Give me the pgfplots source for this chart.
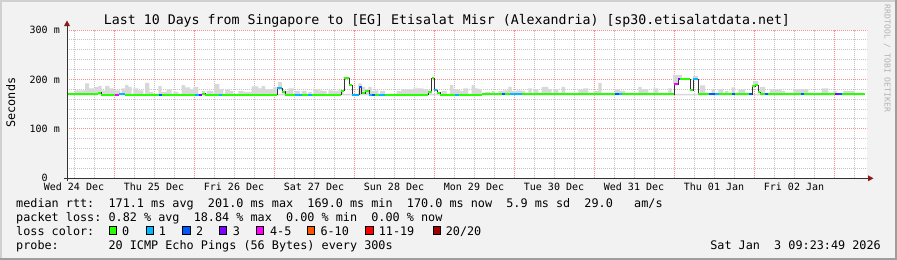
\documentclass[border=0pt]{standalone}
\usepackage{fontspec}
\setmainfont{DejaVu Sans Mono}[WordSpace={1,0,0},PunctuationSpace=WordSpace]
\usepackage{pgfplots}
\pgfplotsset{compat=1.18}
\definecolor{canvas}{HTML}{F2F2F2}
\definecolor{frameL}{HTML}{D0D0D0}
\definecolor{frameD}{HTML}{9E9E9E}
\definecolor{lc0}{HTML}{26FF00}
\definecolor{lc1}{HTML}{00B8FF}
\definecolor{lc2}{HTML}{0059FF}
\definecolor{lc3}{HTML}{7E00FF}
\definecolor{lc4}{HTML}{FF00FF}
\definecolor{lc6}{HTML}{FF5500}
\definecolor{lc11}{HTML}{FF0000}
\definecolor{lc20}{HTML}{A10000}
\definecolor{mgrid}{HTML}{FF8C8C}
\definecolor{ngrid}{HTML}{C4C4C4}
\definecolor{smoke}{HTML}{D8D8D8}
\definecolor{arrowred}{HTML}{8B1A1A}
\definecolor{axiscol}{HTML}{333333}
\frenchspacing
\begin{document}
\begin{tikzpicture}
\fill[canvas] (0bp,0bp) rectangle (897bp,-260bp);
\fill[frameL] (0bp,0bp) rectangle (897bp,-2bp);
\fill[frameL] (0bp,0bp) rectangle (2bp,-260bp);
\fill[frameD] (0bp,-257.5bp) rectangle (897bp,-260bp);
\fill[frameD] (895bp,0bp) rectangle (897bp,-260bp);
\begin{axis}[
  at={(67bp,-178.3bp)}, anchor=south west,
  scale only axis, width=800bp, height=148.3bp,
  xmin=0.4125, xmax=10.4125, ymin=0, ymax=300,
  axis background/.style={fill=white},
  axis x line*=bottom, axis y line*=left, axis line style={draw=none},
  major tick length=0pt, minor tick length=0pt,
  xtick={0.5,1.5,2.5,3.5,4.5,5.5,6.5,7.5,8.5,9.5},
  xticklabels={Wed 24 Dec,Thu 25 Dec,Fri 26 Dec,Sat 27 Dec,Sun 28 Dec,Mon 29 Dec,Tue 30 Dec,Wed 31 Dec,Thu 01 Jan,Fri 02 Jan},
  minor xtick={0.5,0.75,1.25,1.5,1.75,2.25,2.5,2.75,3.25,3.5,3.75,4.25,4.5,4.75,5.25,5.5,5.75,6.25,6.5,6.75,7.25,7.5,7.75,8.25,8.5,8.75,9.25,9.5,9.75,10.25},
  extra x ticks={1,2,3,4,5,6,7,8,9,10},
  extra x tick labels={},
  extra x tick style={grid=major},
  xminorgrids,
  ytick={0,100,200,300},
  yticklabels={{0\phantom{xx}},{100 m},{200 m},{300 m}},
  minor ytick={20,40,60,80,120,140,160,180,220,240,260,280},
  ymajorgrids, yminorgrids,
  major grid style={mgrid, dash pattern=on 1bp off 1bp, line width=1bp},
  minor grid style={ngrid, dash pattern=on 1bp off 1bp, line width=1bp},
  ticklabel style={font=\fontsize{10bp}{12bp}\selectfont, text=black},
  xticklabel style={anchor=base, inner sep=0pt, yshift=-12.4bp},
  yticklabel style={anchor=east, inner sep=0pt, xshift=-7bp},
]
% smoke (spread of the 20 pings) around the baseline, filled down to 168
\addplot[fill=smoke, draw=none, const plot] coordinates {
(0.4125,170) (0.5125,178) (0.6375,192) (0.6875,182) (0.7625,185) (0.804,187)
(0.846,178) (0.8875,187) (0.941,182) (0.991,178) (1.075,171) (1.096,182)
(1.1375,188.5) (1.179,185) (1.221,171) (1.241,182) (1.304,178) (1.366,171)
(1.3875,193) (1.441,175) (1.491,171) (1.554,186.5) (1.596,175) (1.659,180)
(1.721,171) (1.741,175) (1.804,171) (1.846,188.5) (1.8875,184) (1.95,180)
(1.991,185) (2.054,171) (2.096,177) (2.1375,171) (2.159,177) (2.241,171)
(2.254,190.5) (2.316,180) (2.366,171) (2.3875,180) (2.45,177) (2.491,171)
(2.554,177) (2.616,175) (2.721,186) (2.804,182) (2.846,186.5) (2.8875,180)
(2.991,185) (3.034,171) (3.104,178) (3.1375,177) (3.179,182)
(3.241,171) (3.2625,177) (3.325,171) (3.346,177) (3.409,171) (3.429,175)
(3.471,171) (3.491,180) (3.554,178) (3.596,177) (3.659,171) (3.679,178)
(3.741,177) (3.804,178) (3.866,171) (3.991,171) (4.054,192)
(4.096,185) (4.1375,180) (4.179,185) (4.221,177) (4.2625,178) (4.304,171)
(4.325,177) (4.3875,171) (4.534,177) (4.596,180) (4.659,180) (4.741,182)
(4.866,180) (4.929,176) (4.971,171) (5.075,171) (5.096,177)
(5.159,171) (5.2,188.5) (5.241,180) (5.325,177) (5.366,182) (5.429,171)
(5.471,188.5) (5.5125,182) (5.554,180) (5.596,171) (5.6375,175) (5.7,171)
(5.721,177) (5.7625,171) (5.804,177) (5.866,178) (5.929,185) (5.971,177)
(6.034,178) (6.096,177) (6.1375,171) (6.179,182) (6.221,171) (6.241,180)
(6.304,171) (6.346,185) (6.429,180) (6.471,171) (6.491,180) (6.554,171)
(6.596,185) (6.6375,171) (6.804,180) (6.866,182) (6.929,171) (6.991,177)
(7.054,193) (7.096,171) (7.2625,180) (7.325,177) (7.3875,171) (7.554,185)
(7.596,180) (7.679,171) (7.741,182) (7.804,171) (7.929,182) (7.971,171)
(8.325,188) (8.3875,171) (8.471,180) (8.5125,171) (8.554,180) (8.616,171) (8.6375,177)
(8.679,171) (8.721,184) (8.7625,171) (8.804,180) (8.8875,171)
(9.075,185) (9.1375,171) (9.2,180) (9.346,177) (9.3875,171)
(9.491,180) (9.679,171) (9.846,182) (9.929,171) (9.991,177) (10.034,171)
(10.116,177) (10.179,177) (10.2625,171) (10.3875,171)}
 -- (axis cs:10.3875,168) -- (axis cs:0.4125,168) -- cycle;
% smoke above the raised steps of the median
\addplot[fill=smoke, draw=none] coordinates {(3.054,182) (3.054,195) (3.104,195) (3.104,182)} -- cycle;
\addplot[fill=smoke, draw=none] coordinates {(3.866,202) (3.866,205) (3.95,205) (3.95,202)} -- cycle;
\addplot[fill=smoke, draw=none] coordinates {(4.971,202) (4.971,205) (5.0125,205) (5.0125,202)} -- cycle;
\addplot[fill=smoke, draw=none] coordinates {(7.991,190) (7.991,208) (8.05,208) (8.05,190)} -- cycle;
\addplot[fill=smoke, draw=none] coordinates {(8.05,200.5) (8.05,208) (8.096,208) (8.096,200.5)} -- cycle;
\addplot[fill=smoke, draw=none] coordinates {(8.241,200.5) (8.241,207) (8.304,207) (8.304,200.5)} -- cycle;
\addplot[fill=smoke, draw=none] coordinates {(8.991,188) (8.991,196) (9.054,196) (9.054,188)} -- cycle;
% median rtt (black steps)
\addplot[axiscol, line width=1bp, const plot] coordinates {
(0.4125,171) (0.8,173.5) (0.8375,169.5) (1.066,170.5) (1.1375,169.5) (2.1,171)
(2.1375,169.5) (3.0375,182) (3.1,175) (3.1375,169.5) (3.8375,177) (3.881,202)
(3.9375,188) (3.975,169.5) (4.0625,185) (4.096,172) (4.1375,177) (4.1875,169.5)
(4.925,174) (4.969,202) (5.0,178) (5.0375,173) (5.075,169) (5.6,170)
(8.004,190) (8.05,200.5) (8.2,178) (8.2375,200.5) (8.3,170) (8.975,186)
(9.0125,188) (9.05,174) (9.075,171) (9.1375,170) (10.3875,170)};
% median coloured by packet loss
\addplot[lc0, line width=2bp, unbounded coords=jump] coordinates {
(0.4125,171) (0.8,171) (0.8,nan)
(0.8,173.5) (0.8375,173.5) (0.8375,nan)
(0.8375,169.5) (1.0125,169.5) (1.0125,nan)
(1.1375,169.5) (1.5625,169.5) (1.5625,nan)
(1.6,169.5) (2.0125,169.5) (2.0125,nan)
(2.1,171) (2.1375,171) (2.1375,nan)
(2.1375,169.5) (2.3125,169.5) (2.3125,nan)
(2.35,169.5) (3.0375,169.5) (3.0375,nan)
(3.1,175) (3.1375,175) (3.1375,nan)
(3.1375,169.5) (3.2625,169.5) (3.2625,nan)
(3.35,169.5) (3.425,169.5) (3.425,nan)
(3.475,169.5) (3.8375,169.5) (3.8375,nan)
(3.8375,177) (3.881,177) (3.881,nan)
(3.881,202) (3.9375,202) (3.9375,nan)
(3.9375,188) (3.975,188) (3.975,nan)
(4.096,172) (4.1375,172) (4.1375,nan)
(4.1375,177) (4.1875,177) (4.1875,nan)
(4.2625,169.5) (4.3125,169.5) (4.3125,nan)
(4.3875,169.5) (4.925,169.5) (4.925,nan)
(4.925,174) (4.969,174) (4.969,nan)
(4.969,202) (5.0,202) (5.0,nan)
(5.0375,173) (5.075,173) (5.075,nan)
(5.075,169) (5.2625,169) (5.2625,nan)
(5.3125,169) (5.6,169) (5.6,nan)
(5.6,170) (5.85,170) (5.85,nan)
(5.8875,170) (5.95,170) (5.95,nan)
(6.1,170) (7.2625,170) (7.2625,nan)
(7.35,170) (8.004,170) (8.004,nan)
(8.081,200.5) (8.2,200.5) (8.2,nan)
(8.2,178) (8.2375,178) (8.2375,nan)
(8.3,170) (8.4375,170) (8.4375,nan)
(8.5625,170) (8.725,170) (8.725,nan)
(8.7625,170) (8.9375,170) (8.9375,nan)
(8.975,186) (9.0125,186) (9.0125,nan)
(9.0125,188) (9.05,188) (9.05,nan)
(9.05,174) (9.075,174) (9.075,nan)
(9.075,171) (9.1375,171) (9.1375,nan)
(9.175,170) (9.5875,170) (9.5875,nan)
(9.625,170) (10.0125,170) (10.0125,nan)
(10.1,170) (10.3875,170)};
\addplot[lc1, line width=2bp, unbounded coords=jump] coordinates {
(1.066,170.5) (1.1375,170.5) (1.1375,nan)
(2.0125,169.5) (2.0625,169.5) (2.0625,nan)
(2.3125,169.5) (2.35,169.5) (2.35,nan)
(3.0375,182) (3.1,182) (3.1,nan)
(3.2625,169.5) (3.35,169.5) (3.35,nan)
(3.425,169.5) (3.475,169.5) (3.475,nan)
(3.975,169.5) (4.0625,169.5) (4.0625,nan)
(4.1875,169.5) (4.225,169.5) (4.225,nan)
(4.3125,169.5) (4.3875,169.5) (4.3875,nan)
(5.0,178) (5.0375,178) (5.0375,nan)
(5.2625,169) (5.3125,169) (5.3125,nan)
(5.95,170) (6.1,170) (6.1,nan)
(7.3125,170) (7.35,170) (7.35,nan)
(8.2375,200.5) (8.3,200.5) (8.3,nan)
(8.5125,170) (8.5625,170)};
\addplot[lc2, line width=2bp, unbounded coords=jump] coordinates {
(1.5625,169.5) (1.6,169.5) (1.6,nan)
(4.0625,185) (4.096,185) (4.096,nan)
(4.225,169.5) (4.2625,169.5) (4.2625,nan)
(5.85,170) (5.8875,170) (5.8875,nan)
(7.2625,170) (7.3125,170) (7.3125,nan)
(8.4375,170) (8.5125,170) (8.5125,nan)
(8.725,170) (8.7625,170) (8.7625,nan)
(8.9375,170) (8.975,170) (8.975,nan)
(9.1375,170) (9.175,170) (9.175,nan)
(9.5875,170) (9.625,170) (9.625,nan)
(10.0625,170) (10.1,170)};
\addplot[lc3, line width=2bp, unbounded coords=jump] coordinates {
(2.0625,169.5) (2.1,169.5) (2.1,nan)
(8.05,200.5) (8.081,200.5) (8.081,nan)
(10.0125,170) (10.0625,170)};
\addplot[lc4, line width=2bp, unbounded coords=jump] coordinates {
(1.0125,169.5) (1.066,169.5) (1.066,nan)
(8.004,190) (8.05,190)};
\end{axis}
% axis lines with arrows
\draw[axiscol, line width=1bp] (64bp,-178.3bp) -- (868bp,-178.3bp);
\draw[axiscol, line width=1bp] (67bp,-181bp) -- (67bp,-25bp);
\fill[arrowred] (868bp,-175.3bp) -- (873.5bp,-178.3bp) -- (868bp,-181.3bp) -- cycle;
\fill[arrowred] (64bp,-26bp) -- (67bp,-20.5bp) -- (70bp,-26bp) -- cycle;
% title and labels
\node[anchor=base, inner sep=0pt, font=\fontsize{13.25bp}{15bp}\selectfont] at (447bp,-24.3bp)
  {Last 10 Days from Singapore to [EG] Etisalat Misr (Alexandria) [sp30.etisalatdata.net]};
\node[anchor=base, rotate=90, inner sep=0pt, font=\fontsize{11.8bp}{14bp}\selectfont] at (15bp,-102.6bp) {Seconds};
\node[anchor=base, rotate=-90, inner sep=0pt, text=black!30, font=\fontsize{8.1bp}{10bp}\selectfont] at (884.5bp,-58.5bp) {RRDTOOL / TOBI OETIKER};
% legend
\begin{scope}[every node/.style={inner sep=0pt, font=\fontsize{11.8bp}{14bp}\selectfont}]
\node[anchor=base west] at (16bp,-207.7bp) {median rtt:~~171.1 ms avg~~201.0 ms max~~169.0 ms min~~170.0 ms now~~5.9 ms sd~~29.0~~~am/s};
\node[anchor=base west] at (16bp,-221.7bp) {packet loss: 0.82 \% avg~~18.84 \% max~~0.00 \% min~~0.00 \% now};
\node[anchor=base west] at (16bp,-235.3bp) {loss color:};
\node[anchor=base west] at (16bp,-249.5bp) {probe:~~~~~~~20 ICMP Echo Pings (56 Bytes) every 300s};
\node[anchor=base east] at (881bp,-249.5bp) {Sat Jan~~3 09:23:49 2026};
\filldraw[fill=lc0, draw=black, line width=0.8bp] (109.3bp,-226.7bp) rectangle (116.7bp,-234.1bp);
\node[anchor=base west] at (122bp,-235.3bp) {0};
\filldraw[fill=lc1, draw=black, line width=0.8bp] (145.9bp,-226.7bp) rectangle (153.3bp,-234.1bp);
\node[anchor=base west] at (158.6bp,-235.3bp) {1};
\filldraw[fill=lc2, draw=black, line width=0.8bp] (182.6bp,-226.7bp) rectangle (190bp,-234.1bp);
\node[anchor=base west] at (195.8bp,-235.3bp) {2};
\filldraw[fill=lc3, draw=black, line width=0.8bp] (219.2bp,-226.7bp) rectangle (226.6bp,-234.1bp);
\node[anchor=base west] at (232.6bp,-235.3bp) {3};
\filldraw[fill=lc4, draw=black, line width=0.8bp] (256bp,-226.7bp) rectangle (263.4bp,-234.1bp);
\node[anchor=base west] at (269.9bp,-235.3bp) {4-5};
\filldraw[fill=lc6, draw=black, line width=0.8bp] (307.4bp,-226.7bp) rectangle (314.8bp,-234.1bp);
\node[anchor=base west] at (320.3bp,-235.3bp) {6-10};
\filldraw[fill=lc11, draw=black, line width=0.8bp] (365.8bp,-226.7bp) rectangle (373.2bp,-234.1bp);
\node[anchor=base west] at (378.6bp,-235.3bp) {11-19};
\filldraw[fill=lc20, draw=black, line width=0.8bp] (433.4bp,-226.7bp) rectangle (440.8bp,-234.1bp);
\node[anchor=base west] at (445.6bp,-235.3bp) {20/20};
\end{scope}
\pgfresetboundingbox
\useasboundingbox (0bp,0bp) rectangle (897bp,-260bp);
\end{tikzpicture}
\end{document}
